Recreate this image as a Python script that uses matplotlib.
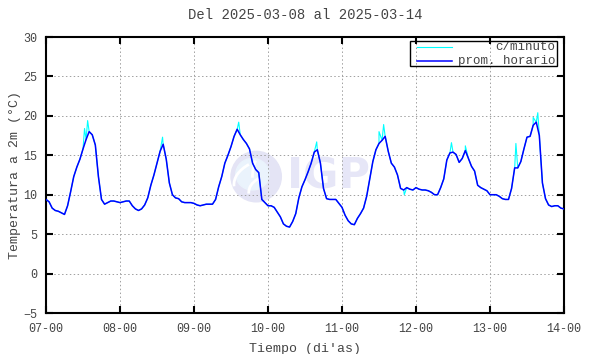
import numpy as np
import pandas as pd
import matplotlib
matplotlib.use("Agg")
import matplotlib.pyplot as plt
import matplotlib.dates as mdates
from matplotlib.patches import Ellipse, Arc

plt.rcParams['font.family'] = ['Liberation Mono', 'DejaVu Sans Mono']

# promedio horario (°C), 07-00 .. 14-00
prom_horario = [
    9.4, 9.1, 8.3, 8.0, 7.9, 7.7, 7.5, 8.6, 10.4, 12.3, 13.5, 14.5,
    15.8, 17.0, 18.0, 17.6, 16.3, 12.3, 9.4, 8.8, 9.0, 9.2, 9.2, 9.1,
    9.0, 9.1, 9.2, 9.2, 8.6, 8.2, 8.0, 8.2, 8.7, 9.6, 11.2, 12.5,
    14.0, 15.5, 16.4, 14.5, 11.5, 10.0, 9.6, 9.5, 9.1, 9.0, 9.0, 9.0,
    8.9, 8.7, 8.6, 8.7, 8.8, 8.8, 8.8, 9.4, 11.0, 12.3, 14.0, 15.0,
    16.1, 17.4, 18.3, 17.6, 17.0, 16.5, 15.8, 14.0, 13.2, 12.8, 9.4, 9.0,
    8.6, 8.6, 8.4, 7.8, 7.2, 6.3, 6.0, 5.9, 6.6, 7.6, 9.6, 11.0,
    11.9, 12.9, 14.0, 15.4, 15.7, 14.0, 10.8, 9.5, 9.4, 9.4, 9.4, 8.9,
    8.4, 7.4, 6.7, 6.3, 6.2, 7.0, 7.6, 8.3, 9.8, 12.0, 14.2, 15.7,
    16.5, 16.9, 17.4, 15.5, 14.0, 13.5, 12.5, 10.8, 10.6, 10.9, 10.7, 10.6,
    10.9, 10.7, 10.6, 10.6, 10.5, 10.3, 10.0, 10.0, 10.9, 12.0, 14.4, 15.3,
    15.4, 15.1, 14.1, 14.6, 15.6, 14.6, 13.6, 13.0, 11.2, 10.9, 10.7, 10.5,
    10.0, 10.0, 10.0, 9.8, 9.5, 9.4, 9.4, 10.8, 13.4, 13.4, 14.2, 15.8,
    17.3, 17.4, 18.8, 19.2, 17.5, 11.5, 9.5, 8.7, 8.5, 8.6, 8.6, 8.3,
    8.2,
]

# picos de la serie por minuto (hora desde 07-00, valor)
picos_hora = [12.5, 13.5, 37.8, 62.5, 87.8, 108.0, 109.5, 116.2, 131.5, 136.0, 152.4, 158.0, 159.5]
picos_valor = [18.4, 19.4, 17.3, 19.2, 16.7, 18.0, 18.9, 10.0, 16.6, 16.2, 16.5, 19.8, 20.4]

t0 = pd.Timestamp("2025-03-07 00:00")
horas = np.arange(len(prom_horario))
t_hor = t0 + pd.to_timedelta(horas, unit="h")

# serie c/minuto: horaria + picos
h_min = np.concatenate([horas, picos_hora])
v_min = np.concatenate([prom_horario, picos_valor])
orden = np.argsort(h_min)
t_min = t0 + pd.to_timedelta(h_min[orden], unit="h")
v_min = v_min[orden]

fig = plt.figure(figsize=(5.9, 3.54), dpi=100)
ax = fig.add_axes([46/590, 1 - 313/354, 518/590, 276/354])

# marca de agua IGP
x0 = mdates.date2num(t0)
cx, cy = x0 + 2.84, 12.3
ax.add_patch(Ellipse((cx, cy), 0.68, 6.4, color='#e4e4f5', zorder=1))
ax.add_patch(Ellipse((cx - 0.05, cy + 0.3), 0.45, 4.0, color='#eaf3fc', zorder=1))
for k, (w, h) in enumerate([(0.9, 5.0), (1.3, 7.0), (0.8, 9.0)]):
    ax.add_patch(Arc((cx + 0.35, cy - 2.0 + k), w, h, theta1=100, theta2=200,
                     color='white', lw=2, zorder=1))
ax.text(x0 + 3.26, cy, "IGP", fontsize=31, fontweight='bold', family='DejaVu Sans',
        color='#e6e6f7', ha='left', va='center', zorder=1)

ax.plot(t_min, v_min, color='#00ffff', lw=0.8, zorder=3)
ax.plot(t_hor, prom_horario, color='#0000ff', lw=1.1, zorder=4)

ax.set_xlim(t0, t0 + pd.Timedelta(days=7))
ax.set_ylim(-5, 30)
ax.set_yticks(np.arange(-5, 31, 5))
ax.xaxis.set_major_locator(mdates.DayLocator())
ax.xaxis.set_major_formatter(mdates.DateFormatter('%d-%H'))
ax.grid(True, color='#a0a0a0', linestyle=(0, (1.5, 2.5)), lw=0.7)
ax.tick_params(direction='in', length=5, width=1.5, top=True, right=True,
               labelsize=8.5, colors='black', labelcolor='#444444')
ax.tick_params(axis='x', pad=7)
ax.tick_params(axis='y', pad=6)
for s in ax.spines.values():
    s.set_linewidth(1.5)

ax.set_title("Del 2025-03-08 al 2025-03-14", fontsize=10, color='#444444', pad=13)
ax.set_xlabel("Tiempo (di'as)", fontsize=9.5, color='#444444', labelpad=6)
ax.set_ylabel("Temperatura a 2m (°C)", fontsize=9.5, color='#444444', labelpad=2)

# leyenda manual estilo gnuplot
tr = ax.transAxes
ax.add_patch(plt.Rectangle((0.703, 0.895), 0.283, 0.0905, transform=tr,
                           fill=False, ec='black', lw=1.0, zorder=5))
ax.plot([0.716, 0.784], [0.965, 0.965], transform=tr, color='#00ffff', lw=0.8, zorder=5)
ax.plot([0.716, 0.784], [0.914, 0.914], transform=tr, color='#0000ff', lw=1.1, zorder=5)
ax.text(0.984, 0.965, "c/minuto", transform=tr, ha='right', va='center', fontsize=9, color='#444444')
ax.text(0.984, 0.914, "prom. horario", transform=tr, ha='right', va='center', fontsize=9, color='#444444')

fig.savefig("out.png", dpi=100)
